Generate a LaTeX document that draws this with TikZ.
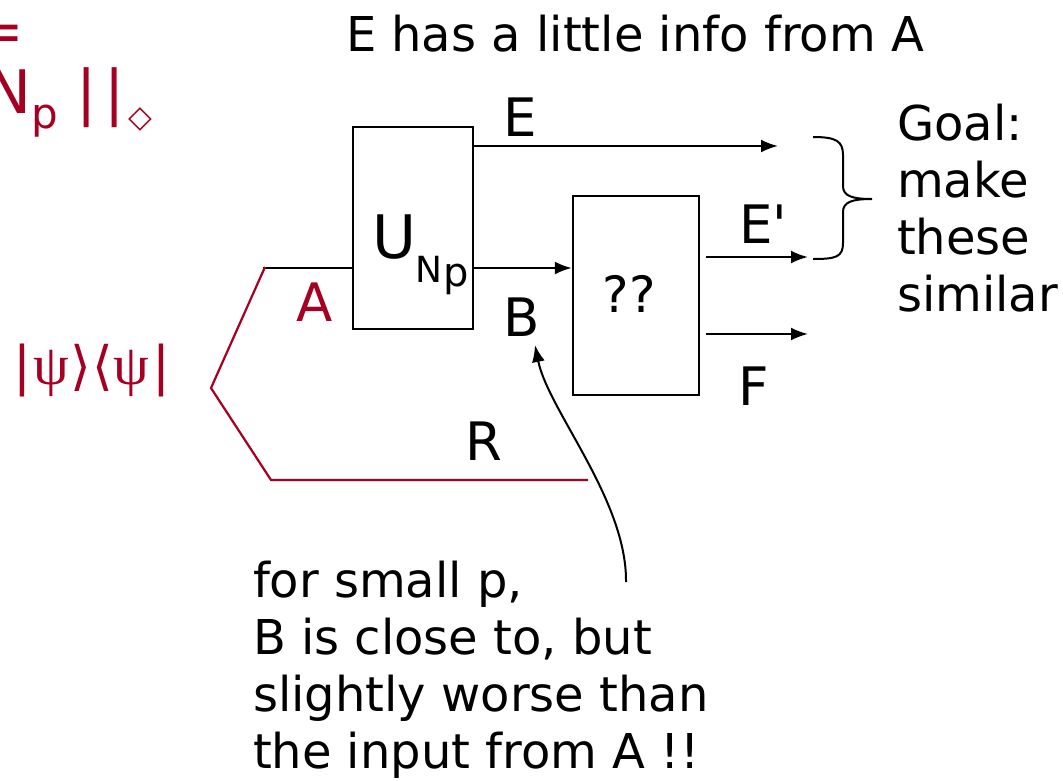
\documentclass[tikz,border=0pt]{standalone}
\usepackage{fontspec}
\setmainfont{DejaVu Sans}
\newfontfamily\psifont{Liberation Serif}
\newfontfamily\plainfont{DejaVu Sans}
\usetikzlibrary{arrows.meta}
\definecolor{dred}{RGB}{165,0,33}
\begin{document}
\begin{tikzpicture}[x=1pt,y=-1pt,
  txt/.style={inner sep=0pt,outer sep=0pt,anchor=base west},
  fs/.style={font=\fontsize{#1}{#1}\selectfont},
  wire/.style={line width=2.2pt},
  arr/.style={line width=2.2pt,-{Latex[length=17pt,width=13pt]}},
  gate/.style={draw,line width=2.4pt,inner sep=0pt},
  redline/.style={dred,line width=2.2pt}]
\useasboundingbox (0,0) rectangle (1063,780);
\clip (0,0) rectangle (1063,780);

% top-left red fragments
\node[txt,fs=58,text=dred] (eq) at (-24,51) {=};
\node[txt,fs=60,text=dred] (normN) at (-13,113) {N\raisebox{-15pt}{\fontsize{42}{42}\selectfont p}};
\node[txt,fs=60,text=dred] (bars) at (76,113) {|\kern8pt|};
\node[inner sep=0pt,font=\fontsize{31}{31}\selectfont\bfseries,text=dred] (dia) at (140,119) {◇};
\node[txt,fs=53,text=dred] (ket) at (13,384) {|\kern3pt{\psifont\fontsize{57}{57}\selectfont ψ}\kern1pt⟩\kern1pt⟨\kern1pt{\psifont\fontsize{57}{57}\selectfont ψ}\kern3pt|};

% title
\node[txt,fs=48] (title) at (346,51) {E has a little info from A};

% gates
\node[gate,minimum width=120pt,minimum height=202pt] (U) at (413,228) {};
\node[gate,minimum width=126pt,minimum height=199pt] (Q) at (636,295.5) {};
\node[txt,fs=60] (Ulab) at (372,258) {U\raisebox{-24pt}{\fontsize{36}{36}\selectfont N\kern1pt\raisebox{-4pt}{\fontsize{40}{40}\selectfont p}}};
\node[fs=50,inner sep=0pt,anchor=base] (qq) at (629,312) {??};

% wires
\coordinate (ain) at (263,268);
\draw[wire] (ain) -- (ain -| U.west);
\draw[arr] (ain -| U.east) -- (ain -| Q.west);
\coordinate (eend) at (778,146);
\draw[arr] (eend -| U.east) -- (eend);
\coordinate (e2s) at (706,257);
\coordinate (e2e) at (808,257);
\draw[arr] (e2s) -- (e2e);
\coordinate (fs0) at (706,334);
\coordinate (fe0) at (808,334);
\draw[arr] (fs0) -- (fe0);

% red entangled pair lines
\coordinate (r1) at (265,267);
\coordinate (r2) at (211,388);
\coordinate (r3) at (271,480);
\coordinate (r4) at (588,480);
\draw[redline] (r1) -- (r2) -- (r3) -- (r4);

% wire labels
\node[txt,fs=53] (Elab) at (503,136) {E};
\node[txt,fs=53,text=dred] (Alab) at (296,321) {A};
\node[txt,fs=53] (Blab) at (503,336) {B};
\node[txt,fs=53] (Rlab) at (465,460) {R};
\node[txt,fs=53] (E2lab) at (739,243) {E{\plainfont '}};
\node[txt,fs=53] (Flab) at (738,405) {F};

% brace
\coordinate (bt) at (813,137);
\coordinate (bb) at (813,259);
\coordinate (bm) at (872,199);
\draw[line width=2pt] (bt) .. controls (836,137) and (843,141) .. (843,155)
  -- (843,186) .. controls (843,196) and (852,199) .. (bm)
  .. controls (852,199) and (843,202) .. (843,212)
  -- (843,243) .. controls (843,257) and (836,259) .. (bb);

% goal text (base anchor = last line)
\node[txt,font=\fontsize{48}{57}\selectfont,align=left] (goal) at (897,311) {Goal:\\make\\these\\similar};

% note and curved arrow
\node[txt,font=\fontsize{48}{57}\selectfont,align=left] (note) at (253,768) {for small p,\\B is close to, but\\slightly worse than\\the input from A !!};
\coordinate (cs) at (626,582);
\coordinate (ct) at (535,345);
\draw[line width=2pt,-{Latex[length=17pt,width=13pt]}] (cs) .. controls (627,500) and (548,410) .. (ct);
\end{tikzpicture}
\end{document}
